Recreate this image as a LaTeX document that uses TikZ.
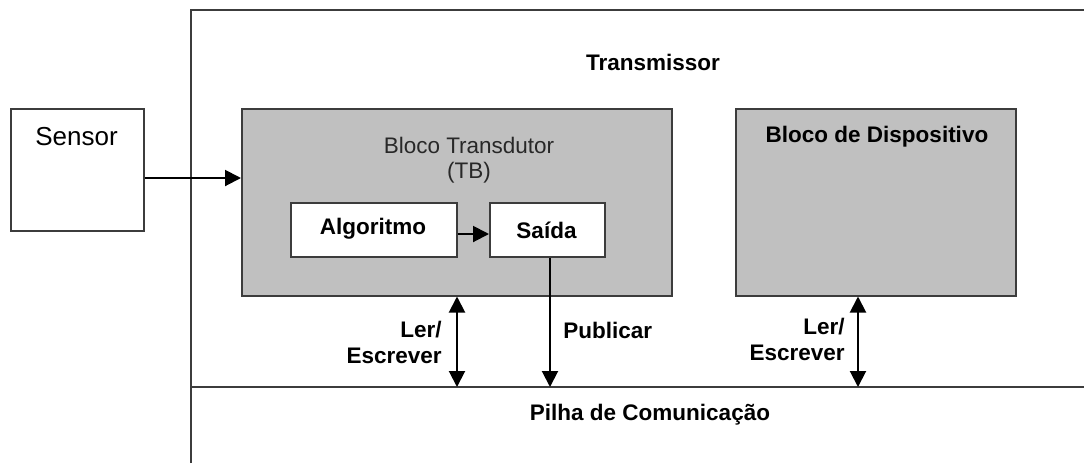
\documentclass[tikz,border=0pt]{standalone}
\usepackage{fontspec}
\setmainfont{Liberation Sans}
\usetikzlibrary{arrows.meta}
\definecolor{boxgray}{RGB}{192,192,192}
\definecolor{linegray}{RGB}{60,60,60}
\definecolor{tbtext}{RGB}{40,40,40}
\begin{document}
\begin{tikzpicture}[x=0.5pt,y=-0.5pt,
  every node/.style={font=\fontsize{11.25pt}{12.5pt}\selectfont, inner sep=0pt},
  box/.style={draw=linegray, line width=0.75pt, anchor=north west, fill=white},
  graybox/.style={box, fill=boxgray},
  lbl/.style={font=\fontsize{11.25pt}{13pt}\selectfont\bfseries},
  arr/.style={-{Triangle[length=8pt,width=8pt]}, line width=1pt, black},
  darr/.style={{Triangle[length=8pt,width=8pt]}-{Triangle[length=8pt,width=8pt]}, line width=1pt, black},
  frame/.style={draw=linegray, line width=0.75pt}]
\useasboundingbox (0,0) rectangle (1084,463);
\fill[white] (0,0) rectangle (1084,463);
% frame of the transmitter
\coordinate (fbl) at (191,463);
\coordinate (ftl) at (191,10);
\coordinate (ftr) at (1084,10);
\coordinate (dl) at (191,387);
\coordinate (dr) at (1084,387);
\draw[frame] (fbl) -- (ftl) -- (ftr);
\draw[frame] (dl) -- (dr);
\node[lbl] (trans) at (653,62) {Transmissor};
\node[lbl] (pilha) at (650,415) {Pilha de Comunicação};
% sensor
\node[box, minimum width=66.5pt, minimum height=61pt] (sensor) at (10,108) {};
\node[font=\fontsize{13pt}{15pt}\selectfont] (sensorlbl) at (76.5,137) {Sensor};
% transducer block
\node[graybox, minimum width=215pt, minimum height=93.5pt] (tb) at (241,108) {};
\node[align=center, text=tbtext, font=\fontsize{11.25pt}{12.5pt}\selectfont] (tblbl) at (469,160) {Bloco Transdutor\\(TB)};
\node[box, minimum width=83pt, minimum height=27pt] (alg) at (290,202) {};
\node[lbl] (algt) at (373,229) {Algoritmo};
\node[box, minimum width=57.5pt, minimum height=27pt] (said) at (489,202) {};
\node[lbl] (saidt) at (546.5,230) {Saída};
% device block
\node[graybox, minimum width=140pt, minimum height=93.5pt] (bd) at (735,108) {};
\node[lbl] (bdlbl) at (877,137) {Bloco de Dispositivo};
% connectors
\coordinate (sy) at (0,178);
\draw[arr] (sensor.east |- sy) -- (tb.west |- sy);
\coordinate (ay) at (0,234);
\draw[arr] (alg.east |- ay) -- (said.west |- ay);
\coordinate (d1) at (457,387);
\draw[darr] (tb.south -| d1) -- (d1);
\coordinate (p1) at (550,387);
\draw[arr] (said.south -| p1) -- (p1);
\coordinate (d2) at (858,387);
\draw[darr] (bd.south -| d2) -- (d2);
% labels
\node[lbl, align=right, anchor=east] (lw1) at (442,342) {Ler/\\Escrever};
\node[lbl, anchor=west] (pub) at (563,330) {Publicar};
\node[lbl, align=right, anchor=east] (lw2) at (845,339) {Ler/\\Escrever};
\end{tikzpicture}
\end{document}
